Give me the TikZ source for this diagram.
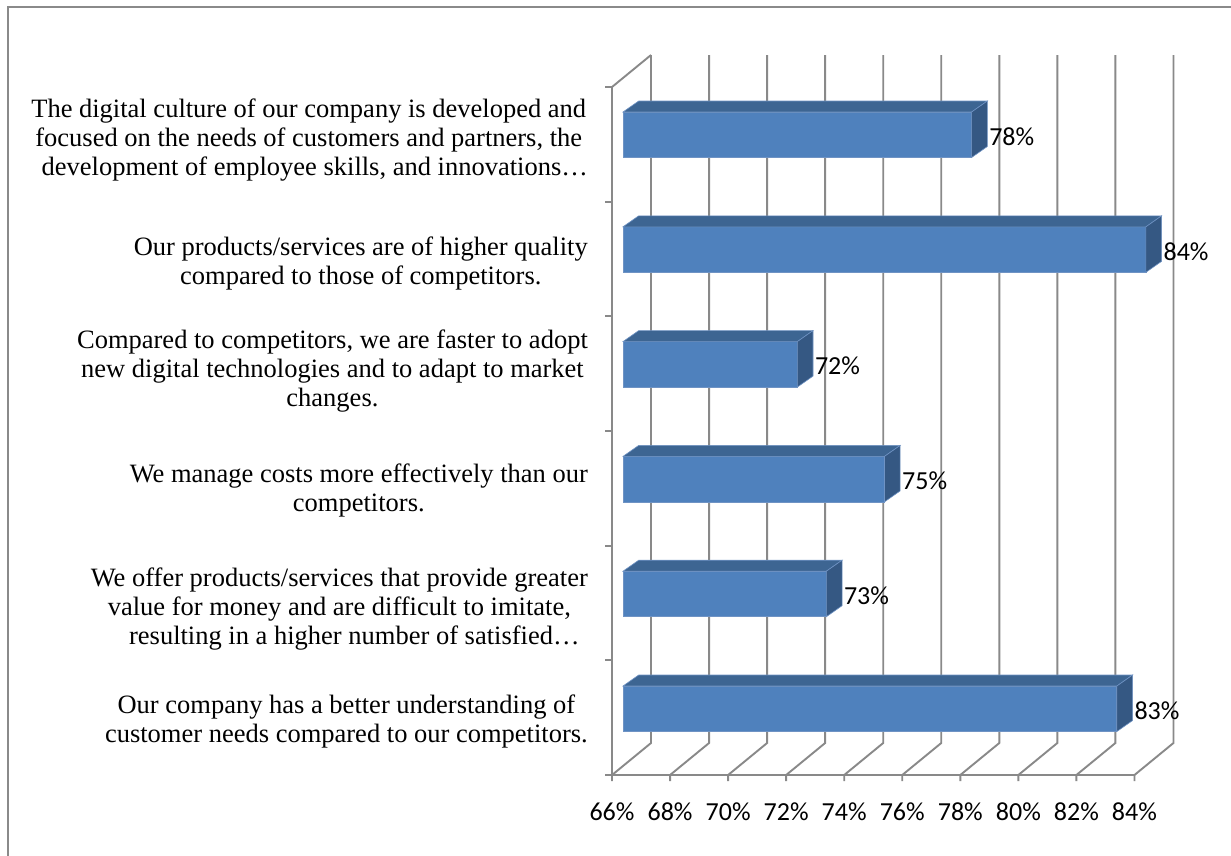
\documentclass[tikz,border=0pt]{standalone}
\usepackage{fontspec}
\setmainfont{Liberation Serif}
\newfontfamily\calfont{Carlito}
\definecolor{gridc}{HTML}{898989}
\definecolor{framec}{HTML}{8A8A8A}
\definecolor{barfront}{HTML}{4F81BD}
\definecolor{bartop}{HTML}{3D6592}
\definecolor{barside}{HTML}{355883}
\definecolor{baredge}{HTML}{6F93C4}
\begin{document}
\begin{tikzpicture}[x=1pt,y=-1pt,
  gridline/.style={draw=gridc, line width=1.9pt},
  framel/.style={draw=framec, line width=1.8pt},
  frontface/.style={fill=barfront, draw=baredge, line width=0.8pt},
  topface/.style={fill=bartop, draw=baredge, line width=0.6pt},
  sideface/.style={fill=barside, draw=baredge, line width=0.6pt},
  catlabel/.style={font=\fontsize{26.5}{29}\selectfont, align=center, anchor=east, inner sep=0pt},
  vallabel/.style={font=\calfont\fontsize{26}{30}\selectfont, anchor=west, inner sep=0pt},
  ticklabel/.style={font=\calfont\fontsize{26}{30}\selectfont, inner sep=0pt}]
\useasboundingbox (0,0) rectangle (1231,855);
\fill[white] (0,0) rectangle (1231,855);
% frame
\draw[framel] (8,856) -- (8,7) -- (1232,7);
% back wall gridlines and floor
\foreach \k in {0,...,9} {
  \coordinate (gt\k) at ({651+58.05*\k},55);
  \coordinate (gb\k) at ({651+58.05*\k},743);
  \coordinate (ft\k) at ({612+58.05*\k},775);
  \coordinate (fk\k) at ({612+58.05*\k},781);
  \draw[gridline] (gt\k) -- (gb\k) -- (ft\k) -- (fk\k);
}
% left wall and axes
\coordinate (lt) at (612,87);
\coordinate (lb) at (612,775);
\coordinate (rb) at (1135,775);
\draw[gridline] (gt0) -- (lt) -- (lb) -- (rb);
\foreach \j in {0,...,6} {
  \coordinate (ya\j) at (612,{87+114.67*\j});
  \coordinate (yb\j) at (605,{87+114.67*\j});
  \draw[gridline] (yb\j) -- (ya\j);
}
% bars
\foreach \k/\v in {0/78,1/84,2/72,3/75,4/73,5/83} {
  \pgfmathsetmacro{\yt}{112+114.8*\k}
  \pgfmathsetmacro{\yb}{\yt+45.5}
  \pgfmathsetmacro{\xr}{623+(\v-66)*29.05}
  \coordinate (bl\k) at (623,\yt);
  \coordinate (br\k) at (\xr,\yt);
  \coordinate (bbr\k) at (\xr,\yb);
  \coordinate (bbl\k) at (623,\yb);
  \draw[frontface] (bl\k) -- (br\k) -- (bbr\k) -- (bbl\k) -- cycle;
  \draw[topface] (bl\k) -- (br\k) -- ++(15.7,-11) -- ([shift={(15.7,-11)}]bl\k) -- cycle;
  \draw[sideface] (br\k) -- ++(15.7,-11) -- ([shift={(15.7,-11)}]bbr\k) -- (bbr\k) -- cycle;
  \node[vallabel] (v\k) at ({\xr+17.5},{\yt+24.5}) {\v\%};
}
% category labels
\node[catlabel] (c1) at (588,140) {The digital culture of our company is developed and\\focused on the needs of customers and partners, the\\\hspace*{12pt}development of employee skills, and innovations…};
\node[catlabel] (c2) at (588,263) {Our products/services are of higher quality\\compared to those of competitors.};
\node[catlabel] (c3) at (588,371) {Compared to competitors, we are faster to adopt\\new digital technologies and to adapt to market\\changes.};
\node[catlabel] (c4) at (588,490) {We manage costs more effectively than our\\competitors.};
\node[catlabel] (c5) at (588,609) {We offer products/services that provide greater\\value for money and are difficult to imitate,\\\hspace*{30pt}resulting in a higher number of satisfied…};
\node[catlabel] (c6) at (588,721) {Our company has a better understanding of\\customer needs compared to our competitors.};
% x axis labels
\foreach \k/\t in {0/66,1/68,2/70,3/72,4/74,5/76,6/78,7/80,8/82,9/84} {
  \node[ticklabel] (x\k) at ({612+58.05*\k},812) {\t\%};
}
\end{tikzpicture}
\end{document}
